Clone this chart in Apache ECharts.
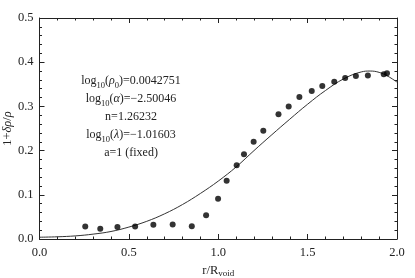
<!DOCTYPE html>
<html>
<head>
<meta charset="utf-8">
<script src="https://cdn.jsdelivr.net/npm/echarts@6/dist/echarts.min.js"></script>
<style>html,body{margin:0;padding:0;background:#fff}#c{width:415px;height:278px}</style>
</head>
<body>
<div id="c"></div>
<script>
// Data points (r/R_void, 1+δρ/ρ)
const pointX = [0.256,0.340,0.436,0.535,0.637,0.745,0.852,0.932,0.999,1.047,1.103,1.144,1.198,1.252,1.337,1.394,1.454,1.523,1.582,1.649,1.710,1.770,1.837,1.926,1.944];
const pointY = [0.028,0.023,0.027,0.028,0.032,0.033,0.029,0.054,0.091,0.132,0.167,0.192,0.220,0.245,0.282,0.300,0.321,0.335,0.346,0.356,0.364,0.369,0.370,0.373,0.375];
// Fit curve samples
const curveX = [0.0,0.1,0.2,0.3,0.4,0.5,0.6,0.7,0.8,0.9,1.0,1.1,1.2,1.3,1.4,1.5,1.6,1.7,1.8,1.85,1.9,1.95,2.0];
const curveY = [0.004,0.005,0.007,0.011,0.017,0.027,0.040,0.057,0.078,0.103,0.131,0.163,0.200,0.236,0.271,0.305,0.336,0.362,0.378,0.380,0.377,0.368,0.355];
const xTicks = ['0.0','0.5','1.0','1.5','2.0'];
const yTicks = ['0.0','0.1','0.2','0.3','0.4','0.5'];
const annotation = [
  'log{sub|10}({gr|ρ}{sub|0})=0.0042751',
  'log{sub|10}({gr|α})=−2.50046',
  'n=1.26232',
  'log{sub|10}({gr|λ})=−1.01603',
  'a=1 (fixed)'
];

const FONT = '"Liberation Serif","DejaVu Serif",serif';
const chart = echarts.init(document.getElementById('c'), null, {renderer:'canvas'});
function mkX(pos, showLabel) {
  return {
    type:'value', min:0, max:2, interval:0.5, position:pos,
    axisLine:{show:true, onZero:false, lineStyle:{color:'#222', width:1}},
    splitLine:{show:false}, minorSplitLine:{show:false},
    axisTick:{show:true, inside:true, length:5, lineStyle:{color:'#222'}},
    minorTick:{show:true, splitNumber:5, length:2.5, lineStyle:{color:'#222'}},
    axisLabel:{show:showLabel, margin:7, fontFamily:FONT, fontSize:12.5, color:'#222',
      formatter:(v)=>xTicks[Math.round(v/0.5)]}
  };
}
function mkY(pos, showLabel) {
  return {
    type:'value', min:0, max:0.5, interval:0.1, position:pos,
    axisLine:{show:true, onZero:false, lineStyle:{color:'#222', width:1}},
    splitLine:{show:false}, minorSplitLine:{show:false},
    axisTick:{show:true, inside:true, length:5, lineStyle:{color:'#222'}},
    minorTick:{show:true, splitNumber:5, length:2.5, lineStyle:{color:'#222'}},
    axisLabel:{show:showLabel, margin:6, fontFamily:FONT, fontSize:12.5, color:'#222',
      formatter:(v)=>yTicks[Math.round(v/0.1)]}
  };
}
const xBottom = Object.assign(mkX('bottom', true), {
  name:'r/R{sub|void}', nameLocation:'middle', nameGap:24, nameMoveOverlap:false,
  nameTextStyle:{fontFamily:FONT, fontSize:12.5, color:'#222',
    rich:{sub:{fontFamily:FONT, fontSize:9, color:'#222', verticalAlign:'bottom', padding:[6,0,0,0]}}}
});
const yLeft = Object.assign(mkY('left', true), {
  name:'1+{it|δρ}/{it|ρ}', nameLocation:'middle', nameGap:25, nameRotate:90, nameMoveOverlap:false,
  nameTextStyle:{fontFamily:FONT, fontSize:12.5, color:'#222',
    rich:{it:{fontFamily:FONT, fontSize:12.5, fontStyle:'italic', color:'#222'}}}
});
const option = {
  animation:false,
  backgroundColor:'#fff',
  grid:{left:39.5, right:18, top:18, bottom:39, containLabel:false, outerBoundsMode:'none'},
  xAxis:[xBottom, mkX('top', false)],
  yAxis:[yLeft, mkY('right', false)],
  graphic:[{
    type:'text', x:131, y:72,
    style:{
      text: annotation.join('\n'),
      align:'center', verticalAlign:'top',
      fontFamily:FONT, fontSize:12, fill:'#222', lineHeight:18,
      rich:{
        sub:{fontFamily:FONT, fontSize:8.5, fill:'#222', verticalAlign:'bottom', lineHeight:18, padding:[6,0,0,0]},
        gr:{fontFamily:FONT, fontSize:12, fontStyle:'italic', fill:'#222', lineHeight:18}
      }
    }
  }],
  series:[
    {
      type:'line', xAxisIndex:0, yAxisIndex:0,
      data: curveX.map((x,i)=>[x, curveY[i]]),
      smooth:0.4, showSymbol:false, symbol:'none',
      lineStyle:{color:'#333', width:1},
      clip:true, z:2
    },
    {
      type:'scatter', xAxisIndex:0, yAxisIndex:0,
      data: pointX.map((x,i)=>[x, pointY[i]]),
      symbol:'circle', symbolSize:6,
      itemStyle:{color:'#000'}, z:3
    }
  ]
};
chart.setOption(option);
</script>
</body>
</html>
